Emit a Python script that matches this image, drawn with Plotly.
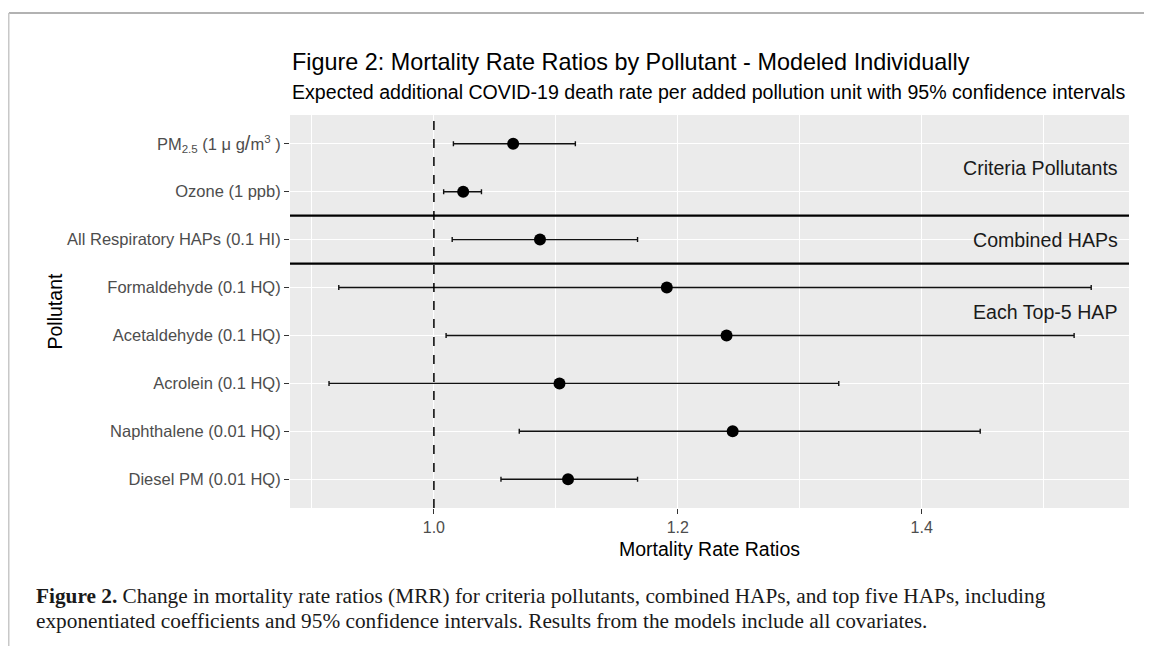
import plotly.graph_objects as go

# ---- data (bottom to top order on the axis) ----
pollutants = [
    "Diesel PM (0.01 HQ)",
    "Naphthalene (0.01 HQ)",
    "Acrolein (0.1 HQ)",
    "Acetaldehyde (0.1 HQ)",
    "Formaldehyde (0.1 HQ)",
    "All Respiratory HAPs (0.1 HI)",
    "Ozone (1 ppb)",
    "PM<sub>2.5</sub> (1 \u03bc g<span style='font-size:20px'>/</span>m<sup>3</sup> )",
]
mrr = [1.110, 1.245, 1.103, 1.240, 1.191, 1.087, 1.024, 1.065]
ci_low = [1.055, 1.070, 0.914, 1.010, 0.922, 1.015, 1.008, 1.016]
ci_high = [1.167, 1.448, 1.332, 1.525, 1.539, 1.167, 1.039, 1.116]

group_labels = ["Criteria Pollutants", "Combined HAPs", "Each Top-5 HAP"]
group_label_pos = [6.5, 5.0, 3.5]
separator_pos = [5.5, 4.5]

x_ticks = [1.0, 1.2, 1.4]

err_plus = [h - m for h, m in zip(ci_high, mrr)]
err_minus = [m - l for m, l in zip(mrr, ci_low)]

fig = go.Figure()
fig.add_trace(go.Scatter(
    x=mrr, y=pollutants, mode="markers",
    marker=dict(color="black", size=12),
    error_x=dict(type="data", symmetric=False, array=err_plus, arrayminus=err_minus,
                 color="#111111", thickness=1.4, width=2.5),
    showlegend=False, hoverinfo="skip",
))

shapes = [
    dict(type="line", xref="x", yref="paper", x0=1.0, x1=1.0, y0=0, y1=1,
         line=dict(color="black", width=1.5, dash="dash"), layer="above"),
]
for p in separator_pos:
    shapes.append(dict(type="line", xref="paper", yref="y", x0=0, x1=1, y0=p, y1=p,
                       line=dict(color="black", width=2.2), layer="above"))
# page border lines
shapes.append(dict(type="line", xref="paper", yref="paper", x0=-0.335, x1=1.04,
                   y0=1.2595, y1=1.2595, line=dict(color="#999999", width=1.5)))
shapes.append(dict(type="line", xref="paper", yref="paper", x0=-0.3355, x1=-0.3355,
                   y0=1.2595, y1=-0.36, line=dict(color="#c8c8c8", width=2)))

annotations = []
for lab, pos in zip(group_labels, group_label_pos):
    annotations.append(dict(text=lab, x=1.5625, y=pos, xref="x", yref="y",
                            xanchor="right", yanchor="middle", showarrow=False,
                            font=dict(size=19.6, color="#1a1a1a")))
annotations += [
    dict(text="Figure 2: Mortality Rate Ratios by Pollutant - Modeled Individually",
         x=0, y=1.1349, xref="paper", yref="paper", xanchor="left", yanchor="middle",
         showarrow=False, font=dict(size=23.4, color="black")),
    dict(text="Expected additional COVID-19 death rate per added pollution unit with 95% confidence intervals",
         x=0, y=1.0585, xref="paper", yref="paper", xanchor="left", yanchor="middle",
         showarrow=False, font=dict(size=19.6, color="black")),
    dict(text="Mortality Rate Ratios", x=0.5, y=-0.1043, xref="paper", yref="paper",
         xanchor="center", yanchor="middle", showarrow=False,
         font=dict(size=19.5, color="black")),
    dict(text="Pollutant", x=-0.2801, y=0.5, xref="paper", yref="paper", textangle=-90,
         xanchor="center", yanchor="middle", showarrow=False,
         font=dict(size=19.5, color="black")),
    dict(text="<b>Figure 2.</b> Change in mortality rate ratios (MRR) for criteria pollutants, combined HAPs, and top five HAPs, including",
         x=-0.3051, y=-0.2230, xref="paper", yref="paper", xanchor="left", yanchor="middle",
         showarrow=False, font=dict(family="Liberation Serif", size=21.3, color="#1a1a1a")),
    dict(text="exponentiated coefficients and 95% confidence intervals. Results from the models include all covariates.",
         x=-0.3051, y=-0.288, xref="paper", yref="paper", xanchor="left", yanchor="middle",
         showarrow=False, font=dict(family="Liberation Serif", size=21.3, color="#1a1a1a")),
]

fig.update_layout(
    width=1144, height=638,
    margin=dict(l=282, r=23, t=107, b=138),
    paper_bgcolor="white", plot_bgcolor="#EBEBEB",
    font=dict(family="Liberation Sans, Arial, sans-serif"),
    shapes=shapes, annotations=annotations,
    xaxis=dict(range=[0.882, 1.570], tickvals=x_ticks, ticktext=[f"{v:.1f}" for v in x_ticks],
               showgrid=True, gridcolor="white", gridwidth=1.2, zeroline=False,
               ticks="outside", ticklen=5, tickcolor="#333333", tickwidth=1,
               tickfont=dict(size=16, color="#4D4D4D"),
               minor=dict(tickvals=[0.9, 1.1, 1.3, 1.5], showgrid=True,
                          gridcolor="white", gridwidth=0.6, ticks="")),
    yaxis=dict(type="category", categoryorder="array", categoryarray=pollutants,
               range=[-0.6, 7.6], showgrid=True, gridcolor="white", gridwidth=1.2,
               zeroline=False, ticks="outside", ticklen=5, tickcolor="#333333",
               tickwidth=1, tickfont=dict(size=16.5, color="#4D4D4D")),
)

fig.write_html("out.html")
